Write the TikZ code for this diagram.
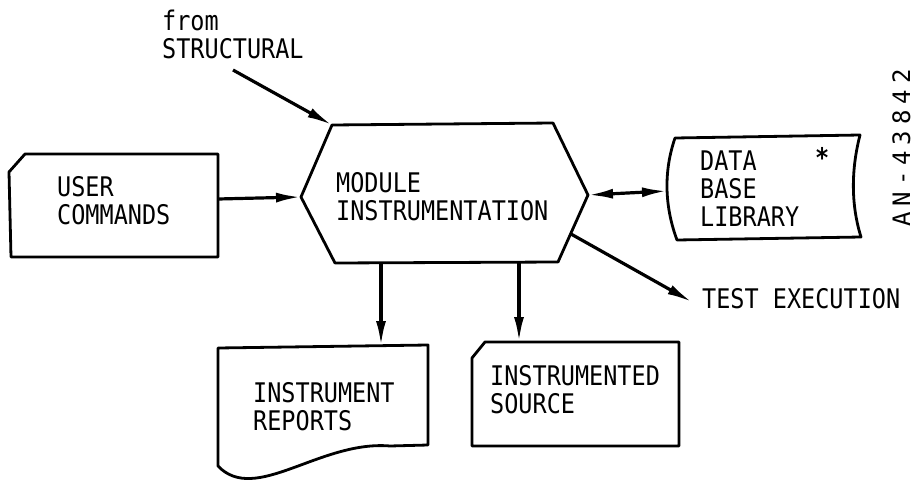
\documentclass[tikz,border=0pt]{standalone}
\usepackage{fontspec}
\setmainfont[FakeStretch=0.87]{DejaVu Sans Mono}
\newfontfamily\anfont[LetterSpace=25]{DejaVu Sans Mono}
\usetikzlibrary{arrows.meta}

\begin{document}
\begin{tikzpicture}[x=1pt,y=-1pt,line join=round,
				box/.style={line width=2.8pt},
				flow/.style={line width=3.2pt,-{Latex[length=25pt,width=10pt]}},
				lbl/.style={anchor=base west,inner sep=0pt,font=\fontsize{27}{28}\selectfont}]
				\useasboundingbox (0,0) rectangle (914,482);
				% outlines
				\draw[box] (332,125) -- (553,123) -- (588,195) -- (558,262) -- (335,263) -- (301,197) -- cycle;
				\draw[box] (9,172) -- (25,154) -- (218,154) -- (218,257) -- (11,257) -- cycle;
				\draw[box] (675,138) -- (860,135) .. controls (851,170) and (851,205) .. (861,237) -- (677,240) .. controls (664,205) and (664,170) .. (675,138) -- cycle;
				\draw[box] (218,348) -- (428,345) -- (428,445) -- (390,446) .. controls (320,440) and (255,505) .. (218,466) -- cycle;
				\draw[box] (485,342) -- (679,342) -- (679,446) -- (472,446) -- (472,358) -- cycle;
				
				% texts
				\node[lbl] (modl) at (336,192) {\begin{tabular}[t]{@{}l@{}} MODULE\\ INSTRUMENTATION \end{tabular}};
				\node[lbl] (user) at (57,196) {\begin{tabular}[t]{@{}l@{}} USER\\ COMMANDS \end{tabular}};
				\node[lbl] (dbl) at (700,170) {\begin{tabular}[t]{@{}l@{}} DATA\\ BASE\\ LIBRARY \end{tabular}};
				\node[lbl] (star) at (815,167) {\bfseries *};
				\node[lbl] (rep) at (253,402) {\begin{tabular}[t]{@{}l@{}} INSTRUMENT\\ REPORTS \end{tabular}};
				\node[lbl] (src) at (490,385) {\begin{tabular}[t]{@{}l@{}} INSTRUMENTED\\ SOURCE \end{tabular}};
				\node[lbl] (strc) at (162,30) {\begin{tabular}[t]{@{}l@{}} from\\ STRUCTURAL \end{tabular}};
				\node[lbl] (test) at (702,308) {TEST EXECUTION};
				\node[lbl,rotate=90,font=\anfont\fontsize{24}{26}\selectfont] (an) at (910,227) {AN-43842};
				
				% connector ends
				\coordinate (hexL) at (301,197);
				\coordinate (hexR) at (588,195);
				\coordinate (hexTL) at (332,125);
				\coordinate (hexBR) at (571,234);
				\coordinate (hexB1) at (381,263);
				\coordinate (hexB2) at (519,262);
				\coordinate (userR) at (218,199);
				\coordinate (dbL) at (667,191);
				\coordinate (repT) at (381,346);
				\coordinate (srcT) at (519,342);
				\coordinate (strcE) at (233,70);
				\coordinate (testW) at (692,302);
				
				\path (userR) edge[flow] (hexL);
				\path (strcE) edge[flow] (hexTL);
				\path (hexB1) edge[flow] (repT);
				\path (hexB2) edge[flow] (srcT);
				\path (hexBR) edge[flow] (testW);
				\path (hexR) edge[flow,{Latex[length=25pt,width=10pt]}-{Latex[length=25pt,width=10pt]}] (dbL);
			\end{tikzpicture}
\end{document}
